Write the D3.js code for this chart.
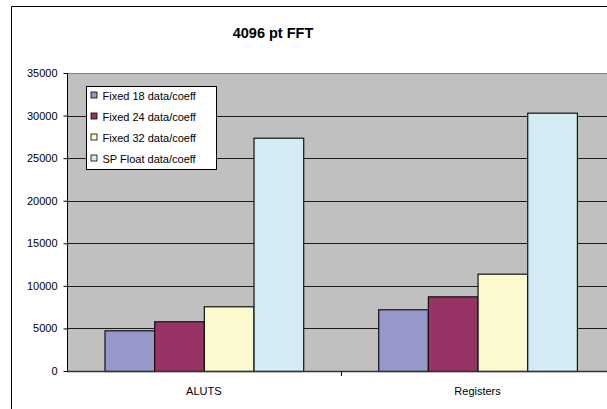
<!DOCTYPE html>
<html>
<head>
<meta charset="utf-8">
<script src="https://cdn.jsdelivr.net/npm/d3@7"></script>
<style>
  html, body { margin: 0; padding: 0; background: #fff; overflow: hidden; }
  svg { display: block; font-family: "Liberation Sans", Arial, sans-serif; }
</style>
</head>
<body>
<svg id="chart" width="607" height="409"></svg>
<script>
// FFT resource usage, 4096-point transform
const categories = ["ALUTS", "Registers"];
const seriesNames = ["Fixed 18 data/coeff", "Fixed 24 data/coeff", "Fixed 32 data/coeff", "SP Float data/coeff"];
const fixed18 = [4780, 7250];
const fixed24 = [5840, 8770];
const fixed32 = [7600, 11430];
const spFloat = [27400, 30340];
const yTicks = [0, 5000, 10000, 15000, 20000, 25000, 30000, 35000];
const colors = ["#9797ca", "#993366", "#fcf9cf", "#d3ecf3"];

const seriesValues = [fixed18, fixed24, fixed32, spFloat];

const W = 607, H = 409;
const svg = d3.select("#chart");

// outer chart frame (left and top edges; it continues past the page)
svg.append("path")
  .attr("d", `M11.5,${H}V6.5H${W}`)
  .attr("fill", "none").attr("stroke", "#000").attr("stroke-width", 1);

// title
svg.append("text")
  .attr("x", 273).attr("y", 38)
  .attr("text-anchor", "middle")
  .attr("font-size", "14.5px").attr("font-weight", "bold")
  .text("4096 pt FFT");

const plotLeft = 67, plotTop = 73, plotBottom = 371;
const catWidth = 273.7;
const plotRight = plotLeft + catWidth * categories.length;
const visRight = Math.min(plotRight, W);

const x0 = d3.scaleBand().domain(categories).range([plotLeft, plotRight]).paddingInner(0).paddingOuter(0);
const x1 = d3.scaleBand().domain(d3.range(seriesNames.length))
  .range([0, x0.bandwidth()]).paddingInner(0).paddingOuter(0.755);
const y = d3.scaleLinear().domain([0, 35000]).range([plotBottom, plotTop]);

// plot background
svg.append("rect")
  .attr("x", plotLeft).attr("y", plotTop)
  .attr("width", visRight - plotLeft).attr("height", plotBottom - plotTop)
  .attr("fill", "#c0c0c0");

// gridlines
svg.append("g").selectAll("line")
  .data(yTicks.filter(t => t > 0 && t < 35000))
  .join("line")
  .attr("x1", plotLeft).attr("x2", visRight)
  .attr("y1", d => Math.round(y(d)) + 0.5).attr("y2", d => Math.round(y(d)) + 0.5)
  .attr("stroke", "#1a1a1a").attr("stroke-width", 1);

// top border of plot area
svg.append("line")
  .attr("x1", plotLeft).attr("x2", visRight)
  .attr("y1", plotTop + 0.5).attr("y2", plotTop + 0.5)
  .attr("stroke", "#808080");

// bars
const groups = svg.append("g").selectAll("g")
  .data(categories)
  .join("g")
  .attr("transform", c => `translate(${x0(c)},0)`);

groups.selectAll("rect")
  .data((c, ci) => seriesValues.map((vals, si) => ({ si, v: vals[ci] })))
  .join("rect")
  .attr("x", d => x1(d.si) + 0.5)
  .attr("y", d => y(d.v) + 0.5)
  .attr("width", x1.bandwidth())
  .attr("height", d => plotBottom - y(d.v))
  .attr("fill", d => colors[d.si])
  .attr("stroke", "#111").attr("stroke-width", 1.2);

// y axis
const yAxis = d3.axisLeft(y).tickValues(yTicks).tickSize(4).tickPadding(6).tickFormat(d3.format("d"));
const gy = svg.append("g").attr("transform", `translate(${plotLeft + 0.5},0)`).call(yAxis);
gy.select(".domain").attr("stroke", "#000").attr("d", `M0,${plotTop}V${plotBottom}`);
gy.selectAll(".tick line").attr("stroke", "#000");
gy.selectAll(".tick text").attr("font-size", "11px").attr("fill", "#000")
  .attr("font-family", "Liberation Sans, Arial, sans-serif");

// x axis
const xAxis = d3.axisBottom(x0).tickSize(0).tickPadding(16);
const gx = svg.append("g").attr("transform", `translate(0,${plotBottom + 0.5})`).call(xAxis);
gx.select(".domain").attr("stroke", "#333").attr("stroke-width", 1.5)
  .attr("d", `M${plotLeft},0H${visRight}`);
gx.selectAll(".tick text").attr("font-size", "11px").attr("fill", "#000")
  .attr("font-family", "Liberation Sans, Arial, sans-serif");
// category separator ticks
svg.append("g").selectAll("line")
  .data(categories.slice(1))
  .join("line")
  .attr("x1", c => Math.round(x0(c)) + 0.5).attr("x2", c => Math.round(x0(c)) + 0.5)
  .attr("y1", plotBottom).attr("y2", plotBottom + 5)
  .attr("stroke", "#000");

// legend
const legend = svg.append("g").attr("transform", "translate(86.5,86.5)");
legend.append("rect")
  .attr("width", 130).attr("height", 83)
  .attr("fill", "#fff").attr("stroke", "#000").attr("stroke-width", 1);
const items = legend.selectAll("g.item")
  .data(seriesNames)
  .join("g").attr("class", "item")
  .attr("transform", (d, i) => `translate(0,${9 + i * 21})`);
items.append("rect")
  .attr("x", 4.5).attr("y", -3.5).attr("width", 6).attr("height", 6)
  .attr("fill", (d, i) => colors[i]).attr("stroke", "#000").attr("stroke-width", 0.8);
items.append("text")
  .attr("x", 16).attr("y", 4)
  .attr("font-size", "11px").attr("fill", "#000")
  .text(d => d);
</script>
</body>
</html>
